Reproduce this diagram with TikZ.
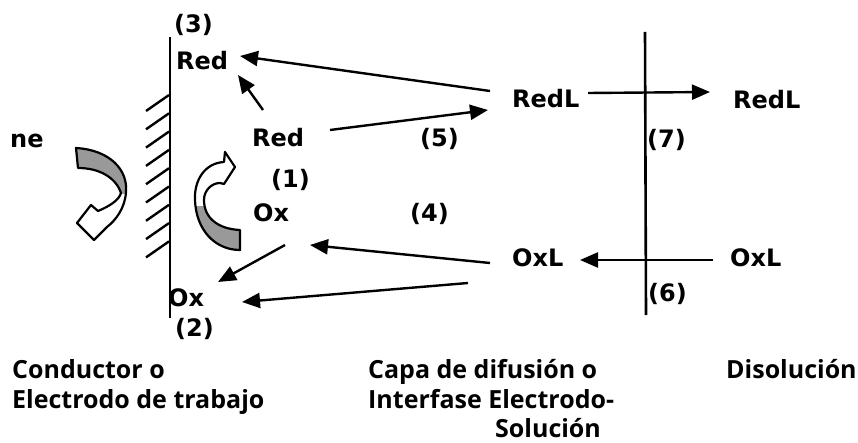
\documentclass[tikz,border=0pt]{standalone}
\usepackage{fontspec}
\setmainfont{DejaVu Sans}
\newfontfamily\capfont{Open Sans}
\usetikzlibrary{arrows.meta}
\begin{document}
\begin{tikzpicture}[x=1pt,y=-1pt,
  lbl/.style={font=\bfseries\fontsize{24}{28}\selectfont, inner sep=0pt, anchor=base west},
  captxt/.style={font=\capfont\bfseries\fontsize{25}{29}\selectfont, inner sep=0pt, anchor=base west},
  arr/.style={line width=2.4pt, -{Triangle[length=18pt,width=15pt]}},
  wall/.style={line width=2.6pt},
  hatch/.style={line width=2.4pt},
  bent/.style={line width=2.2pt, line join=round},
  shade/.style={fill=black!40}]
\useasboundingbox (0,0) rectangle (858,443);

% text labels
\node[lbl] (n3) at (174,33) {(3)};
\node[lbl] (redT) at (176,70) {Red};
\node[lbl] (ne) at (10,148) {ne};
\node[lbl] (redM) at (252,147) {Red};
\node[lbl] (n1) at (271,188) {(1)};
\node[lbl] (oxM) at (253,222) {Ox};
\node[lbl] (n4) at (410,222) {(4)};
\node[lbl] (n5) at (420,147) {(5)};
\node[lbl] (redLm) at (512,108) {RedL};
\node[lbl] (oxLm) at (512,266) {OxL};
\node[lbl] (oxB) at (168,306) {Ox};
\node[lbl] (n2) at (175,336) {(2)};
\node[lbl] (redLr) at (733,109) {RedL};
\node[lbl] (n7) at (647,148) {(7)};
\node[lbl] (oxLr) at (730,266) {OxL};
\node[lbl] (n6) at (648,301) {(6)};

\node[captxt] (c1) at (12,378) {Conductor o};
\node[captxt] (c2) at (12,408) {Electrodo de trabajo};
\node[captxt] (c3) at (368,378) {Capa de difusión o};
\node[captxt] (c4) at (368,408) {Interfase Electrodo-};
\node[captxt] (c5) at (495,437) {Solución};
\node[captxt] (c6) at (726,378) {Disolución};

% electrode and interface lines
\coordinate (wTop) at (170,37);
\coordinate (wBot) at (170,318);
\draw[wall] (wTop) -- (wBot);
\coordinate (sTop) at (645,32);
\coordinate (sBot) at (646,315);
\draw[wall] (sTop) -- (sBot);
\foreach \i in {0,...,8}{
  \draw[hatch] (146,{111+18.3*\i}) -- (169,{95+18.3*\i});
}

% connector end points
\coordinate (a1s) at (490,91);  \coordinate (a1e) at (240,56);
\coordinate (a2s) at (263,110); \coordinate (a2e) at (238,75);
\coordinate (a3s) at (330,130); \coordinate (a3e) at (488,110);
\coordinate (a4s) at (588,93);  \coordinate (a4e) at (710,92);
\coordinate (a5s) at (713,260); \coordinate (a5e) at (580,260);
\coordinate (a6s) at (490,263); \coordinate (a6e) at (310,245);
\coordinate (a7s) at (285,245); \coordinate (a7e) at (218,282);
\coordinate (a8s) at (468,283); \coordinate (a8e) at (242,302);

\draw[arr] (a1s) -- (a1e);
\draw[arr] (a2s) -- (a2e);
\draw[arr] (a3s) -- (a3e);
\draw[arr] (a4s) -- (a4e);
\draw[arr] (a5s) -- (a5e);
\draw[arr] (a6s) -- (a6e);
\draw[arr] (a7s) -- (a7e);
\draw[arr] (a8s) -- (a8e);

% left bent arrow (ne)
\begin{scope}
  \clip (60,140) rectangle (140,194);
  \fill[shade] (76,148) .. controls (110,150) and (128,170) .. (126,192)
    .. controls (125,208) and (116,220) .. (107,227) -- (94,240) -- (77,223)
    -- (91,205) -- (98,211) .. controls (110,206) and (119,200) .. (121,193)
    .. controls (116,178) and (100,168) .. (78,168) -- cycle;
\end{scope}
\draw[bent] (76,148) .. controls (110,150) and (128,170) .. (126,192)
    .. controls (125,208) and (116,220) .. (107,227) -- (94,240) -- (77,223)
    -- (91,205) -- (98,211) .. controls (110,206) and (119,200) .. (121,193)
    .. controls (116,178) and (100,168) .. (78,168) -- cycle;

% right bent arrow
\begin{scope}
  \clip (180,207) rectangle (260,260);
  \fill[shade] (240,250) -- (240,230) .. controls (218,229) and (204,218) .. (204,200)
    .. controls (204,190) and (212,183) .. (220,183) -- (224,184) -- (235,167)
    -- (225,152) -- (224,162) .. controls (205,163) and (194,180) .. (195,200)
    .. controls (196,230) and (215,250) .. (240,250) -- cycle;
\end{scope}
\draw[bent] (240,250) -- (240,230) .. controls (218,229) and (204,218) .. (204,200)
    .. controls (204,190) and (212,183) .. (220,183) -- (224,184) -- (235,167)
    -- (225,152) -- (224,162) .. controls (205,163) and (194,180) .. (195,200)
    .. controls (196,230) and (215,250) .. (240,250) -- cycle;
\end{tikzpicture}
\end{document}
